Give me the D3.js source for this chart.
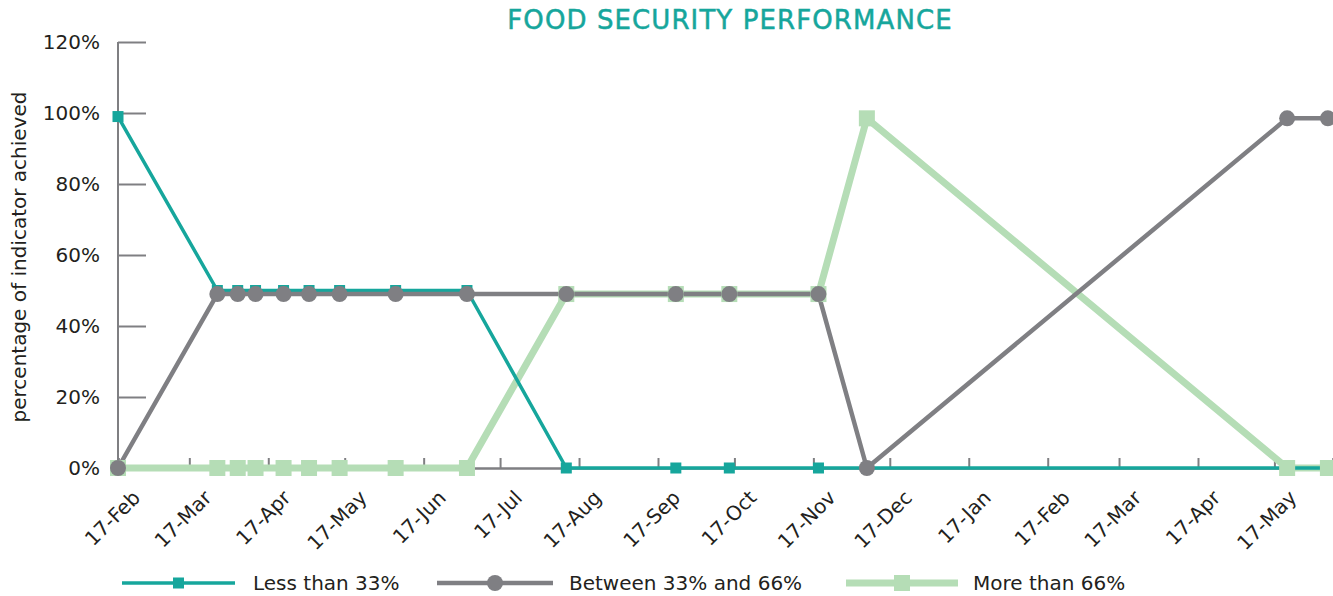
<!DOCTYPE html>
<html>
<head>
<meta charset="utf-8">
<script src="https://cdn.jsdelivr.net/npm/d3@7"></script>
<style>
  body { margin: 0; background: #fff; }
  svg { display: block; font-family: "DejaVu Sans", sans-serif; }
</style>
</head>
<body>
<svg width="1333" height="596"></svg>
<script>
// observation dates and share of indicators in each band (%)
const dates = [
  "2017-02-17", "2017-03-28", "2017-04-05", "2017-04-12", "2017-04-23",
  "2017-05-03", "2017-05-15", "2017-06-06", "2017-07-04", "2017-08-12",
  "2017-09-24", "2017-10-15", "2017-11-19", "2017-12-08", "2018-05-22",
  "2018-06-07"
];
const lessThan33     = [99, 50, 50, 50, 50, 50, 50, 50, 50, 0, 0, 0, 0, 0, 0, 0];
const between33and66 = [0, 49, 49, 49, 49, 49, 49, 49, 49, 49, 49, 49, 49, 0, 98.5, 98.5];
const moreThan66     = [0, 0, 0, 0, 0, 0, 0, 0, 0, 49, 49, 49, 49, 98.5, 0, 0];
const yTicks = [0, 20, 40, 60, 80, 100, 120];
const seriesNames = ["Less than 33%", "Between 33% and 66%", "More than 66%"];

const parse = d3.timeParse("%Y-%m-%d");
const dd = dates.map(parse);

const svg = d3.select("svg");
const axisCol = "#7f7f82";
const teal = "#16a69c", grey = "#7f7f83", green = "#b5ddb6";
const font = "DejaVu Sans";
const fs = "20px";

const x = d3.scaleTime()
  .domain([parse("2017-02-17"), parse("2018-06-09")])
  .range([118, 1333]);
const y = d3.scaleLinear().domain([0, 120]).range([468, 42]);

// title
svg.append("text")
  .attr("x", 730).attr("y", 29)
  .attr("text-anchor", "middle")
  .style("font-size", "26px")
  .style("letter-spacing", "1.1px")
  .style("stroke", teal).style("stroke-width", 0.5)
  .style("fill", teal)
  .text("FOOD SECURITY PERFORMANCE");

// y axis
const yAxis = svg.append("g")
  .attr("transform", "translate(118,0)")
  .call(d3.axisRight(y).tickValues(yTicks).tickSize(28).tickFormat(d => d + "%"));
yAxis.select(".domain").remove();
yAxis.selectAll(".tick line").attr("stroke", axisCol).attr("stroke-width", 2);
yAxis.selectAll(".tick text")
  .attr("x", -18).attr("text-anchor", "end")
  .style("font-size", fs).style("fill", "#231f20").style("font-family", font);
svg.append("line")
  .attr("x1", 118).attr("x2", 118).attr("y1", y(120)).attr("y2", y(0))
  .attr("stroke", axisCol).attr("stroke-width", 2);

svg.append("text")
  .attr("transform", "translate(26,257) rotate(-90)")
  .attr("text-anchor", "middle")
  .style("font-size", fs).style("fill", "#231f20")
  .text("percentage of indicator achieved");

// x axis, monthly ticks on the 17th
const xTicks = d3.range(16).map(i => d3.timeMonth.offset(parse("2017-02-17"), i));
const xAxis = svg.append("g")
  .attr("transform", `translate(0,${y(0)})`)
  .call(d3.axisBottom(x).tickValues(xTicks).tickSize(-10).tickFormat(d3.timeFormat("%d-%b")));
xAxis.select(".domain").attr("stroke", axisCol).attr("stroke-width", 2.5);
xAxis.selectAll(".tick line").attr("stroke", axisCol).attr("stroke-width", 2);
xAxis.selectAll(".tick text")
  .attr("x", 0).attr("y", 0).attr("dy", "0.35em")
  .attr("text-anchor", "end")
  .attr("transform", "translate(18,26) rotate(-45)")
  .style("font-size", fs).style("fill", "#231f20").style("font-family", font);

const series = [
  {name: seriesNames[0], values: lessThan33, color: teal, width: 3.5, marker: "square", size: 11},
  {name: seriesNames[1], values: between33and66, color: grey, width: 4.5, marker: "circle", size: 16},
  {name: seriesNames[2], values: moreThan66, color: green, width: 7, marker: "square", size: 16}
];

const line = d3.line().x(d => x(d[0])).y(d => y(d[1]));
const pts = s => dd.map((d, i) => [d, s.values[i]]);

// lines first (green, teal, grey), then markers (teal, green, grey)
[2, 0, 1].forEach(k => {
  const s = series[k];
  svg.append("path")
    .datum(pts(s))
    .attr("d", line)
    .attr("fill", "none")
    .attr("stroke", s.color)
    .attr("stroke-width", s.width)
    .attr("stroke-linejoin", "round");
});

function drawMarker(g, s, cx, cy) {
  if (s.marker === "circle") {
    g.append("circle").attr("cx", cx).attr("cy", cy).attr("r", s.size / 2).attr("fill", s.color);
  } else {
    g.append("rect")
      .attr("x", cx - s.size / 2).attr("y", cy - s.size / 2)
      .attr("width", s.size).attr("height", s.size)
      .attr("fill", s.color);
  }
}

[0, 2, 1].forEach(k => {
  const s = series[k];
  const g = svg.append("g");
  pts(s).forEach(p => drawMarker(g, s, x(p[0]), y(p[1])));
});

// legend
const legendPos = [
  {x1: 122, x2: 235, tx: 253},
  {x1: 437, x2: 553, tx: 569},
  {x1: 846, x2: 958, tx: 973}
];
const legendY = 583;
series.forEach((s, i) => {
  const p = legendPos[i];
  const g = svg.append("g");
  g.append("line")
    .attr("x1", p.x1).attr("x2", p.x2).attr("y1", legendY).attr("y2", legendY)
    .attr("stroke", s.color).attr("stroke-width", s.width);
  drawMarker(g, s, (p.x1 + p.x2) / 2, legendY);
  g.append("text")
    .attr("x", p.tx).attr("y", legendY).attr("dy", "0.35em")
    .style("font-size", fs).style("fill", "#231f20")
    .text(s.name);
});
</script>
</body>
</html>
